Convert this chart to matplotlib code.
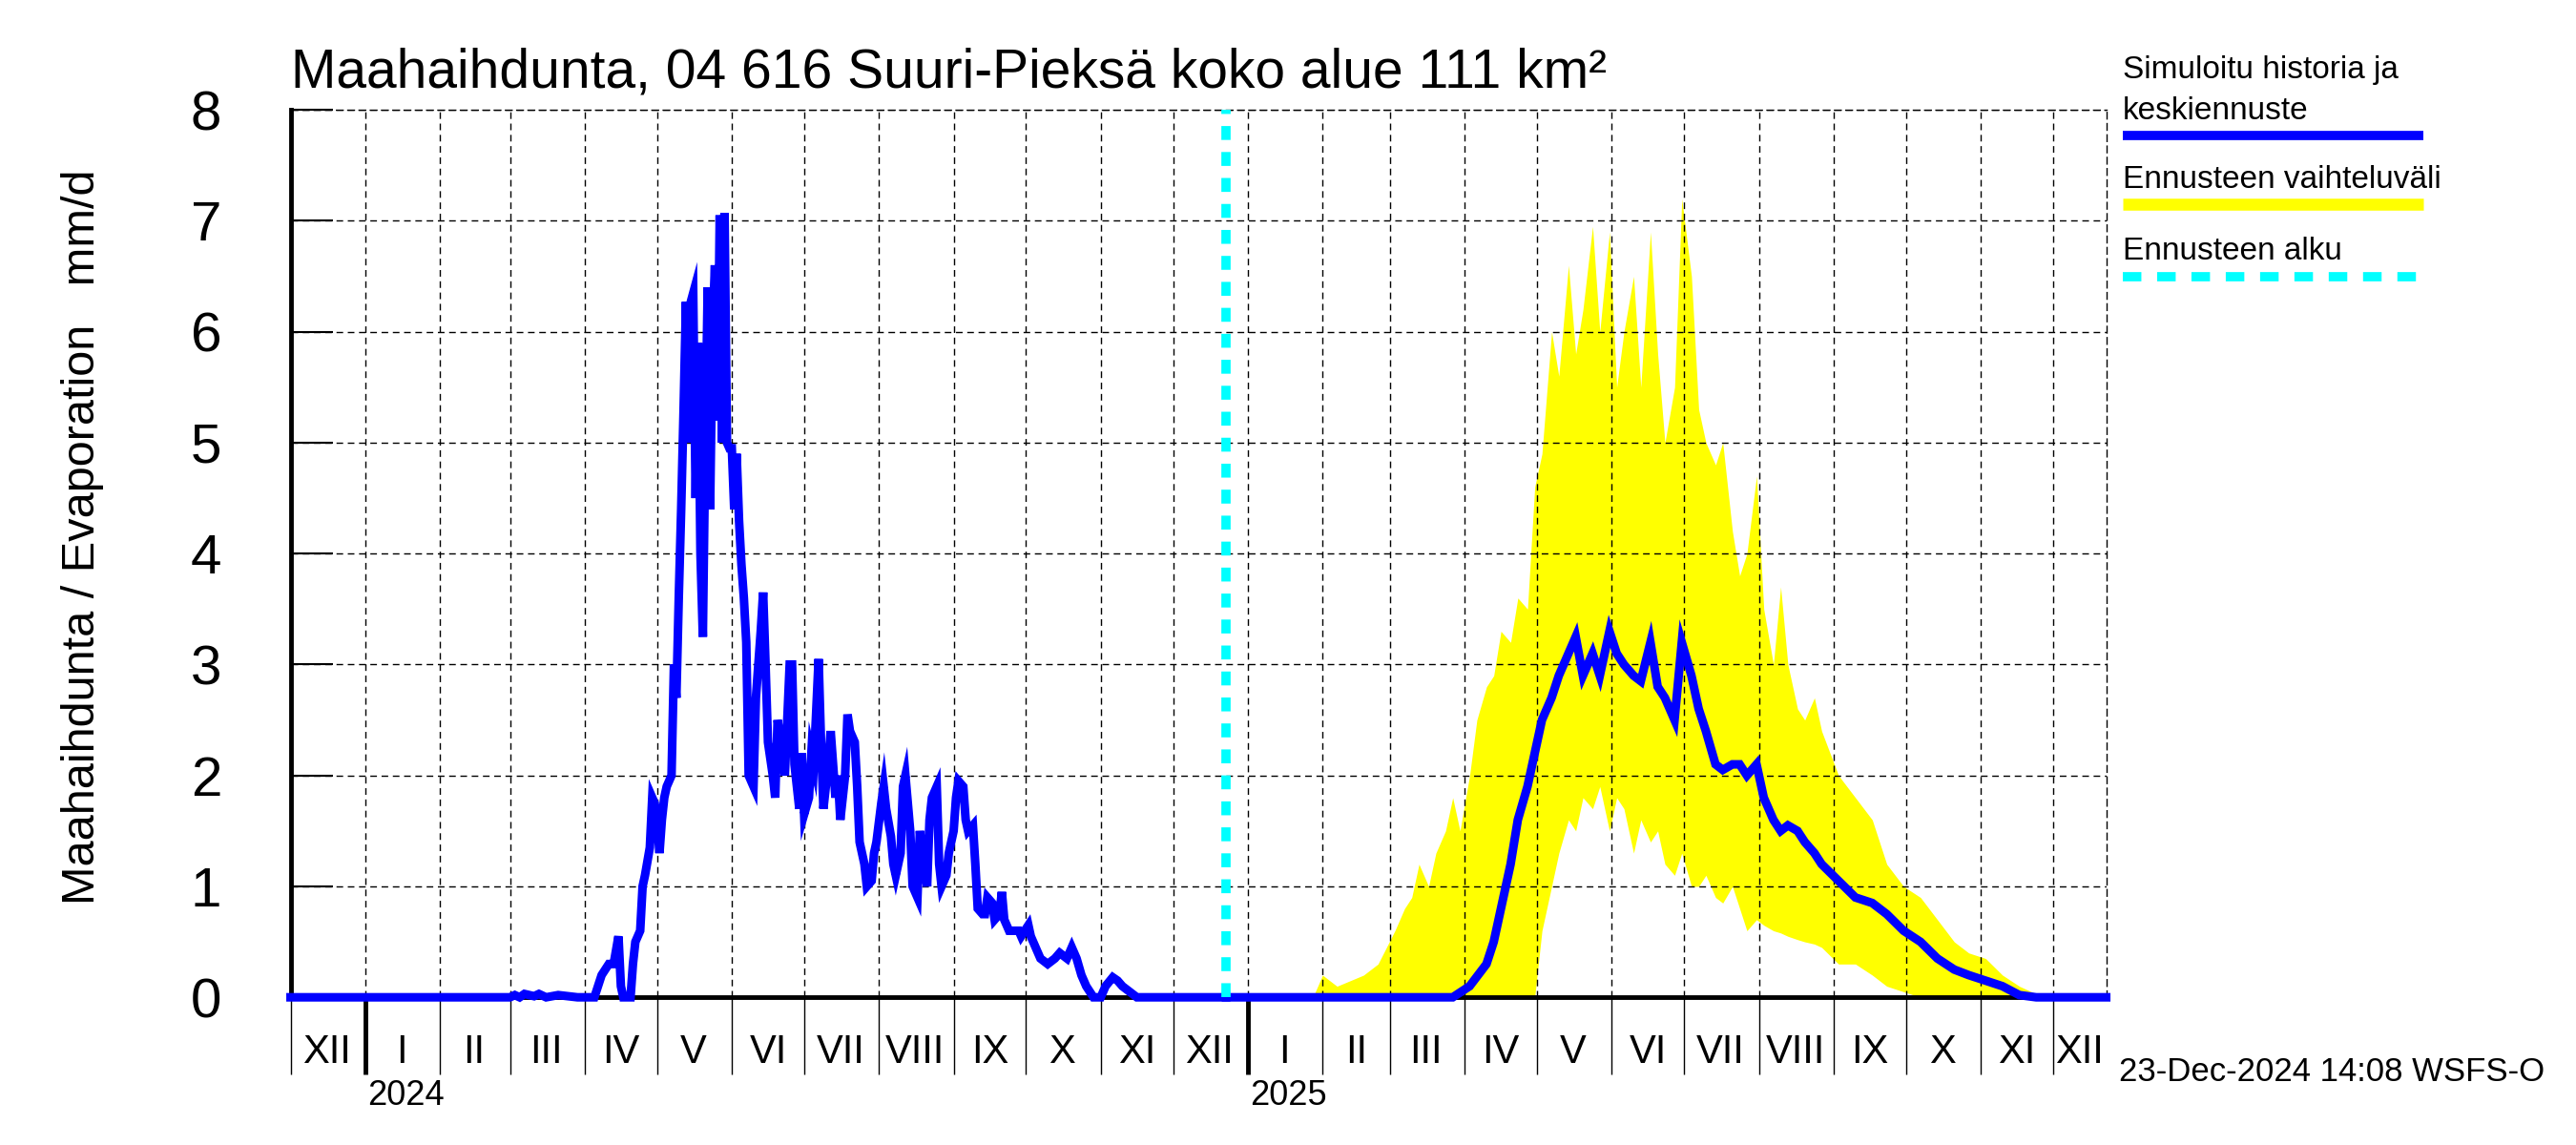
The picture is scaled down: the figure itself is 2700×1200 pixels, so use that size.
import numpy as np
import matplotlib
matplotlib.use("Agg")
import matplotlib.pyplot as plt
import matplotlib.transforms as mtrans
from matplotlib.lines import Line2D

# ---------------- data ----------------
# simulated history, days counted from 2024-01-01
hist_day = [-31, 60, 62, 64, 66, 70, 72, 75, 80, 88, 95, 98, 101, 103, 105, 106, 107, 110, 111, 112,
            114, 115, 116, 118, 119, 120, 121, 122, 123, 124, 125, 127, 128, 129, 130, 131, 132, 133,
            134, 135, 136, 137, 138, 139, 140, 141, 142, 143, 144, 145, 146, 147, 148, 149, 150, 151,
            152, 153, 154, 155, 156, 157, 158,
            159, 161, 162, 164, 165, 166, 167, 169, 170, 171,
            173, 174, 176, 177, 178, 180, 181, 182, 184, 185,
            186, 188, 189, 190, 192, 193, 195, 196, 197, 199,
            200, 201, 203, 204, 205, 207, 208, 210, 211, 212,
            214, 215, 216, 218, 219, 220, 222, 223, 224, 226,
            227, 229, 230, 231, 233, 234, 235, 237, 238, 239,
            241, 242, 244, 245, 246, 248, 249, 250, 252, 253,
            254, 256, 257, 258, 260, 261, 263, 264, 265, 267,
            268, 271, 272, 275, 276, 278, 280, 283, 286, 288,
            291, 293, 295, 297, 299, 302, 305, 307, 310, 312,
            314, 317, 320, 357]
hist_val = [0, 0, 0.02, 0.0, 0.03, 0.01, 0.03, 0.0, 0.02, 0.0, 0.0, 0.2, 0.3, 0.3, 0.55, 0.1, 0.0, 0.0, 0.3, 0.5,
            0.6, 1.0, 1.1, 1.35, 1.8, 1.75, 1.6, 1.3, 1.6, 1.8, 1.9, 2.0, 3.0, 2.7, 3.6, 4.4, 5.3, 6.27,
            5.0, 6.27, 6.35, 4.5, 5.9, 4.0, 3.25, 5.0, 6.4, 4.4, 6.0, 6.6, 5.2, 7.05, 5.0, 7.07, 5.0, 4.95,
            4.95, 4.4, 4.9, 4.3, 3.9, 3.6, 3.2,
            2.0, 1.9, 2.7, 3.3, 3.65, 3.0, 2.3, 2.0, 1.8, 2.5,
            2.2, 2.0, 3.0, 3.0, 2.1, 1.7, 2.2, 1.65, 1.8, 2.2,
            2.1, 3.05, 2.3, 1.7, 2.1, 2.4, 1.8, 2.0, 1.6, 2.0,
            2.55, 2.4, 2.3, 1.9, 1.4, 1.2, 1.0, 1.05, 1.3, 1.4,
            1.75, 1.9, 1.7, 1.45, 1.2, 1.1, 1.3, 1.9, 2.0, 1.5,
            1.0, 0.9, 1.5, 1.3, 1.0, 1.6, 1.8, 1.9, 1.2, 1.0,
            1.1, 1.3, 1.5, 1.8, 1.95, 1.9, 1.6, 1.5, 1.55, 1.2,
            0.8, 0.75, 0.75, 0.9, 0.85, 0.7, 0.75, 0.95, 0.7, 0.6,
            0.6, 0.6, 0.55, 0.65, 0.55, 0.45, 0.35, 0.3, 0.35, 0.4,
            0.35, 0.45, 0.35, 0.2, 0.1, 0.0, 0.0, 0.1, 0.18, 0.15,
            0.1, 0.05, 0.0, 0.0]

# forecast, days counted from 2025-01-01
fc_day = [-9, 85, 92, 99, 102, 105, 109, 112, 116, 119, 122, 126, 129, 133, 136, 139, 143, 146, 150,
          153, 156, 160, 163, 167, 170, 173, 177, 180, 184, 187, 190, 194, 197, 201, 204, 207, 211, 214,
          218, 221, 224, 228, 231, 235, 238, 245, 252, 259, 265, 272, 279, 286, 293, 299, 306, 313, 320,
          327, 356]
fc_mean = [0, 0, 0.1, 0.3, 0.5, 0.8, 1.2, 1.6, 1.9, 2.2, 2.5, 2.7, 2.9, 3.1, 3.25, 2.9, 3.1, 2.9, 3.3,
           3.1, 3.0, 2.9, 2.85, 3.2, 2.8, 2.7, 2.5, 3.2, 2.9, 2.6, 2.4, 2.1, 2.05, 2.1, 2.1, 2.0, 2.1, 1.8,
           1.6, 1.5, 1.55, 1.5, 1.4, 1.3, 1.2, 1.05, 0.9, 0.85, 0.75, 0.6, 0.5, 0.35, 0.25, 0.2, 0.15, 0.1, 0.02,
           0.0, 0.0]

band_day = [0, 27, 31, 37, 48, 54, 61, 65, 68, 71, 75, 78, 82, 85, 88, 92, 95, 99, 102, 105,
            109, 112, 116, 119, 122, 126, 129, 133, 136, 139, 143, 146, 150, 153, 156, 160, 163, 167, 170, 173,
            177, 180, 184, 187, 190, 194, 197, 201, 204, 207, 211, 214, 218, 221, 224, 228, 231, 235, 238, 245,
            252, 259, 265, 272, 279, 286, 293, 299, 306, 313, 320, 327, 333, 356]
band_hi = [0, 0, 0.2, 0.1, 0.2, 0.3, 0.6, 0.8, 0.9, 1.2, 1.0, 1.3, 1.5, 1.8, 1.5, 2.0, 2.5, 2.8, 2.9, 3.3,
           3.2, 3.6, 3.5, 4.6, 4.9, 6.0, 5.6, 6.6, 5.8, 6.2, 6.95, 6.0, 6.9, 5.5, 6.0, 6.5, 5.5, 6.9, 5.8, 5.0,
           5.5, 7.2, 6.5, 5.3, 5.0, 4.8, 5.0, 4.2, 3.8, 4.0, 4.7, 3.5, 3.0, 3.7, 3.0, 2.6, 2.5, 2.7, 2.4, 2.0,
           1.8, 1.6, 1.2, 1.0, 0.9, 0.7, 0.5, 0.4, 0.35, 0.2, 0.1, 0.03, 0, 0]
band_lo = [0, 0, 0, 0, 0, 0, 0, 0, 0, 0, 0, 0, 0, 0, 0, 0, 0, 0, 0, 0,
           0, 0, 0, 0, 0.6, 1.0, 1.3, 1.6, 1.5, 1.8, 1.7, 1.9, 1.5, 1.8, 1.7, 1.3, 1.6, 1.4, 1.5, 1.2,
           1.1, 1.3, 1.0, 1.0, 1.1, 0.9, 0.85, 1.0, 0.8, 0.6, 0.7, 0.65, 0.6, 0.58, 0.55, 0.52, 0.5, 0.48, 0.45, 0.3,
           0.3, 0.2, 0.1, 0.05, 0, 0, 0, 0, 0, 0, 0, 0, 0, 0]

month_labels = ["I", "II", "III", "IV", "V", "VI", "VII", "VIII", "IX", "X", "XI", "XII"]
title_text = "Maahaihdunta, 04 616 Suuri-Pieksä koko alue 111 km²"
ylabel_text = "Maahaihdunta / Evaporation   mm/d"
legend_texts = ["Simuloitu historia ja\nkeskiennuste", "Ennusteen vaihteluväli", "Ennusteen alku"]
stamp_text = "23-Dec-2024 14:08 WSFS-O"
forecast_start = np.datetime64("2024-12-23")
x_start = np.datetime64("2023-12-01")
x_end = np.datetime64("2025-12-23")

# ---------------- figure ----------------
REG = ["Liberation Sans", "DejaVu Sans"]

fig = plt.figure(figsize=(27, 12), dpi=100)
ax = fig.add_axes([0.1128, 0.129, 0.8176 - 0.1128, 0.904 - 0.129])

b24 = np.datetime64("2024-01-01")
b25 = np.datetime64("2025-01-01")
hist_t = b24 + np.array(hist_day).astype("timedelta64[D]")
fc_t = b25 + np.array(fc_day).astype("timedelta64[D]")
band_t = b25 + np.array(band_day).astype("timedelta64[D]")

ax.fill_between(band_t, band_lo, band_hi, color="#ffff00", lw=0, zorder=1)
ax.plot(hist_t, hist_val, color="#0000ff", lw=6.5, zorder=3, clip_on=False,
        solid_joinstyle="miter")
ax.plot(fc_t, fc_mean, color="#0000ff", lw=6.5, zorder=3, clip_on=False,
        solid_joinstyle="miter")
ax.plot([forecast_start, forecast_start], [0, 8], color="#00ffff", lw=7,
        ls=(0, (1.5, 1.3)), zorder=4, clip_on=False)

ax.set_xlim(x_start, x_end)
ax.set_ylim(0, 8)

# month boundaries
months = np.arange(np.datetime64("2023-12"), np.datetime64("2026-01"), np.timedelta64(1, "M"))
mstarts = months.astype("datetime64[D]")
mstarts_in = [m for m in mstarts if x_start <= m <= x_end]
ax.set_xticks(mstarts_in)
ax.set_xticklabels([])
ax.tick_params(axis="x", which="major", direction="out", length=58, width=1.0, color="black")
for tk, loc in zip(ax.xaxis.get_major_ticks(), mstarts_in):
    if str(loc)[5:10] == "01-01":
        tk.tick1line.set_markeredgewidth(3.5)

ax.set_yticks(range(0, 9))
ax.set_yticklabels([str(v) for v in range(0, 9)], fontsize=42, family=REG)
ax.tick_params(axis="y", direction="in", length=32, width=1.5, pad=52)

grid_ls = (0, (5, 3.5))
ax.grid(True, color="black", lw=1.0, ls=grid_ls)
ax.set_axisbelow(False)
for s in ["left", "bottom"]:
    ax.spines[s].set_linewidth(3.5)
for s in ["top", "right"]:
    ax.spines[s].set_linewidth(1.0)
    ax.spines[s].set_linestyle(grid_ls)

# month labels
trans = mtrans.blended_transform_factory(ax.transData, fig.transFigure)
for m in months:
    s = m.astype("datetime64[D]")
    e = (m + np.timedelta64(1, "M")).astype("datetime64[D]")
    s2 = max(s, x_start)
    e2 = min(e, x_end)
    if e2 <= s2:
        continue
    mid = s2 + (e2 - s2) / 2
    idx = int(str(m)[5:7]) - 1
    ax.text(mid, 0.081, month_labels[idx], transform=trans, ha="center", va="center",
            fontsize=30, family=REG)
for y in ["2024", "2025"]:
    ax.text(np.datetime64(y + "-01-01") + np.timedelta64(1, "D"), 0.043, y, transform=trans,
            ha="left", va="center", fontsize=26, family=REG)

fig.text(0.1129, 0.924, title_text, fontsize=41, family=REG, ha="left", va="baseline")
fig.text(0.032, 0.531, ylabel_text, fontsize=35, family=REG, rotation=90,
         ha="center", va="center")
fig.text(0.8227, 0.064, stamp_text, fontsize=25, family=REG, ha="left", va="center")

# legend
lx0, lx1 = 0.824, 0.9407
fig.text(lx0, 0.9386, legend_texts[0].split("\n")[0], fontsize=24, family=REG, ha="left", va="center")
fig.text(lx0, 0.9029, legend_texts[0].split("\n")[1], fontsize=24, family=REG, ha="left", va="center")
fig.add_artist(Line2D([lx0, lx1], [0.8814, 0.8814], color="#0000ff", lw=7, transform=fig.transFigure,
                      solid_capstyle="butt"))
fig.text(lx0, 0.8429, legend_texts[1], fontsize=24, family=REG, ha="left", va="center")
fig.add_artist(Line2D([lx0, lx1], [0.8214, 0.8214], color="#ffff00", lw=9, transform=fig.transFigure,
                      solid_capstyle="butt"))
fig.text(lx0, 0.780, legend_texts[2], fontsize=24, family=REG, ha="left", va="center")
fig.add_artist(Line2D([lx0, lx1], [0.7586, 0.7586], color="#00ffff", lw=7, transform=fig.transFigure,
                      ls=(0, (2.0, 1.7)), dash_capstyle="butt"))

fig.savefig("out.png", dpi=100)
